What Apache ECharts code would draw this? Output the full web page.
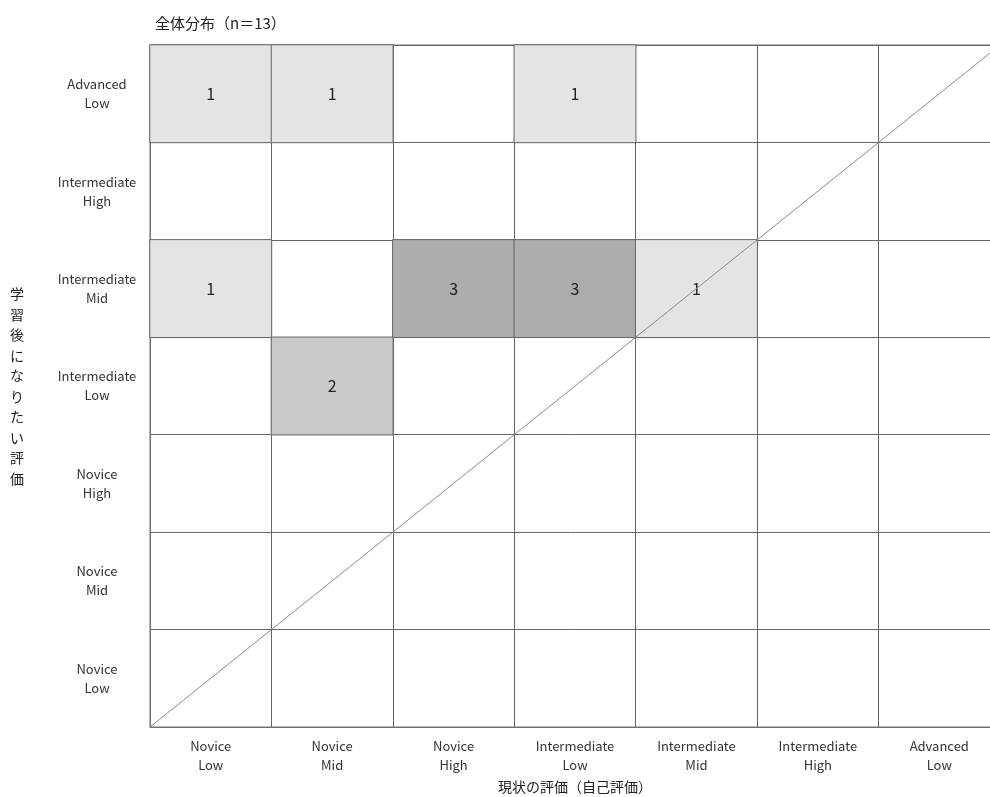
<!DOCTYPE html>
<html>
<head>
<meta charset="utf-8">
<script src="https://cdn.jsdelivr.net/npm/echarts@6/dist/echarts.min.js"></script>
<style>html,body{margin:0;padding:0;background:#fff;}#c{width:990px;height:797px;}</style>
</head>
<body>
<div id="c"></div>
<script>
const levels = ['Novice\nLow','Novice\nMid','Novice\nHigh','Intermediate\nLow','Intermediate\nMid','Intermediate\nHigh','Advanced\nLow'];
// [currentIndex, targetIndex, count]
const cells = [
  [0,6,1],[1,6,1],[3,6,1],
  [0,4,1],[2,4,3],[3,4,3],[4,4,1],
  [1,3,2]
];
const diagonal = [[0,0],[7,7]];
const titleText = '全体分布（n＝13）';
const xName = '現状の評価（自己評価）';
const yName = '学習後になりたい評価';

const font = '"Noto Sans CJK JP", "Noto Sans", sans-serif';
const chart = echarts.init(document.getElementById('c'));
chart.setOption({
  animation:false,
  backgroundColor:'#fff',
  title:{text:titleText,left:150,top:11,textStyle:{fontFamily:font,fontSize:15,fontWeight:'normal',color:'#222'}},
  grid:{left:150,top:45,width:850,height:682,outerBoundsMode:'none',containLabel:false,show:true,borderColor:'#707070',borderWidth:1},
  xAxis:[{
    type:'category',data:levels,position:'bottom',
    axisLine:{show:true,lineStyle:{color:'#707070'}},axisTick:{show:false},
    splitLine:{show:true,lineStyle:{color:'#666',width:1}},
    axisLabel:{fontFamily:font,fontSize:13,color:'#333',lineHeight:19,margin:10,interval:0},
    name:xName,nameLocation:'middle',nameGap:52,
    nameTextStyle:{fontFamily:font,fontSize:14,color:'#222'}
  },{
    type:'value',min:0,max:7,show:false
  }],
  yAxis:[{
    type:'category',data:levels,
    axisLine:{show:true,lineStyle:{color:'#707070'}},axisTick:{show:false},
    splitLine:{show:true,lineStyle:{color:'#666',width:1}},
    axisLabel:{fontFamily:font,fontSize:13,color:'#333',lineHeight:19,align:'center',margin:53,interval:0},
    name:yName.split('').join('\n'),nameLocation:'middle',nameGap:126,nameRotate:0,
    nameTextStyle:{fontFamily:font,fontSize:14,color:'#222',lineHeight:20.5}
  },{
    type:'value',min:0,max:7,show:false
  }],
  visualMap:{
    type:'piecewise',show:false,dimension:2,seriesIndex:0,
    pieces:[{value:1,color:'#e4e4e4'},{value:2,color:'#c9c9c9'},{value:3,color:'#adadad'}]
  },
  series:[{
    type:'heatmap',xAxisIndex:0,yAxisIndex:0,data:cells,
    itemStyle:{borderColor:'#666',borderWidth:1},
    label:{show:true,fontFamily:font,fontSize:16,color:'#222'},
    z:2
  },{
    type:'line',xAxisIndex:1,yAxisIndex:1,data:diagonal,symbol:'none',
    lineStyle:{color:'#8a8a8a',width:1},z:5,silent:true
  }]
});
</script>
</body>
</html>
